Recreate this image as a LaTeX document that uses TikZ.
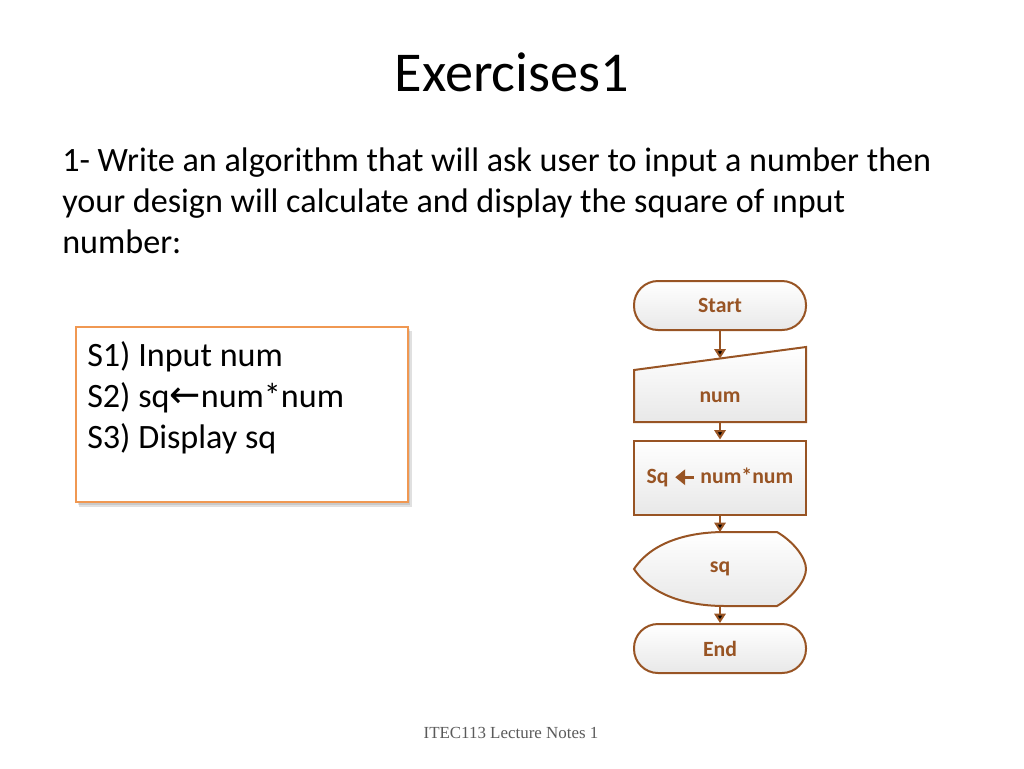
\documentclass[tikz,border=0pt]{standalone}
\usepackage{fontspec}
\setmainfont{Carlito}
\newfontfamily\footfont{Liberation Serif}
\newfontfamily\arrfont{DejaVu Sans}
\usetikzlibrary{arrows.meta}
\definecolor{fcbrown}{RGB}{152,84,36}
\definecolor{boxorange}{RGB}{240,152,82}
\definecolor{foot}{RGB}{90,90,90}
\newcommand{\fcarrow}{\tikz[baseline=-0.6ex]\draw[fcbrown, line width=2.5pt, -{Triangle[length=7.5pt,width=11.5pt]}] (14pt,0) -- (0,0);}
\begin{document}
\begin{tikzpicture}[x=0.75pt,y=-0.75pt,
  fcshape/.style={draw=fcbrown, line width=1.5pt, top color=white, bottom color=black!9},
  fctext/.style={text=fcbrown, font=\bfseries\fontsize{16.3}{19}\selectfont},
  term/.style={fcshape, fctext, rounded corners=18pt, minimum width=129pt, minimum height=36.75pt, inner sep=0pt},
  procbox/.style={fcshape, fctext, minimum width=129pt, minimum height=55.5pt, inner sep=0pt},
  flow/.style={draw=fcbrown, line width=1.5pt, -{Triangle[length=7pt,width=8.5pt]}},
  body/.style={font=\fontsize{25.6}{30.75}\selectfont, align=left, inner sep=0pt}
]
\useasboundingbox (0,0) rectangle (1024,768);
% title and question
\node[font=\fontsize{42.2}{50}\selectfont] (title) at (512,72) {Exercises1};
\node[body, anchor=base west] (q) at (62,253) {1- Write an algorithm that will ask user to input a number then\\your design will calculate and display the square of ınput\\number:};
% algorithm box with shadow
\fill[black, opacity=0.12] (79,331) rectangle (412,507);
\fill[black, opacity=0.10] (78,329) rectangle (410,505);
\node[draw=boxorange, fill=white, line width=2.2pt, minimum width=249pt, minimum height=131.25pt, inner sep=0pt] (algo) at (242,414.5) {};
\node[body, anchor=base west] (steps) at (87,448.5) {S1) Input num\\S2) sq{\arrfont\fontsize{28}{30}\selectfont ←}num*num\\S3) Display sq};
% flowchart
\node[term] (start) at (720,305.5) {Start};
\filldraw[fcshape] (634,370) -- (806,347) -- (806,422) -- (634,422) -- cycle;
\node[fctext] (num) at (720,397) {num};
\coordinate (numtop) at (720,358.5);
\coordinate (numbot) at (720,422);
\node[procbox] (calc) at (720,477.5) {Sq \fcarrow{} num*num};
\filldraw[fcshape] (634,569) .. controls (652,542) and (688,532) .. (725,532) -- (777,532) .. controls (794,542) and (806,558) .. (806,569) .. controls (806,580) and (794,596) .. (777,606) -- (725,606) .. controls (688,606) and (652,596) .. (634,569) -- cycle;
\node[fctext] (sq) at (720,569) {sq};
\coordinate (sqtop) at (720,532);
\coordinate (sqbot) at (720,606);
\node[term] (end) at (720,648.5) {End};
\draw[flow] (start.south) -- (numtop);
\draw[flow] (numbot) -- (calc.north);
\draw[flow] (calc.south) -- (sqtop);
\draw[flow] (sqbot) -- (end.north);
% footer
\node[font=\footfont\fontsize{12.7}{14}\selectfont, text=foot] (footer) at (511,733) {ITEC113 Lecture Notes 1};
\end{tikzpicture}
\end{document}
